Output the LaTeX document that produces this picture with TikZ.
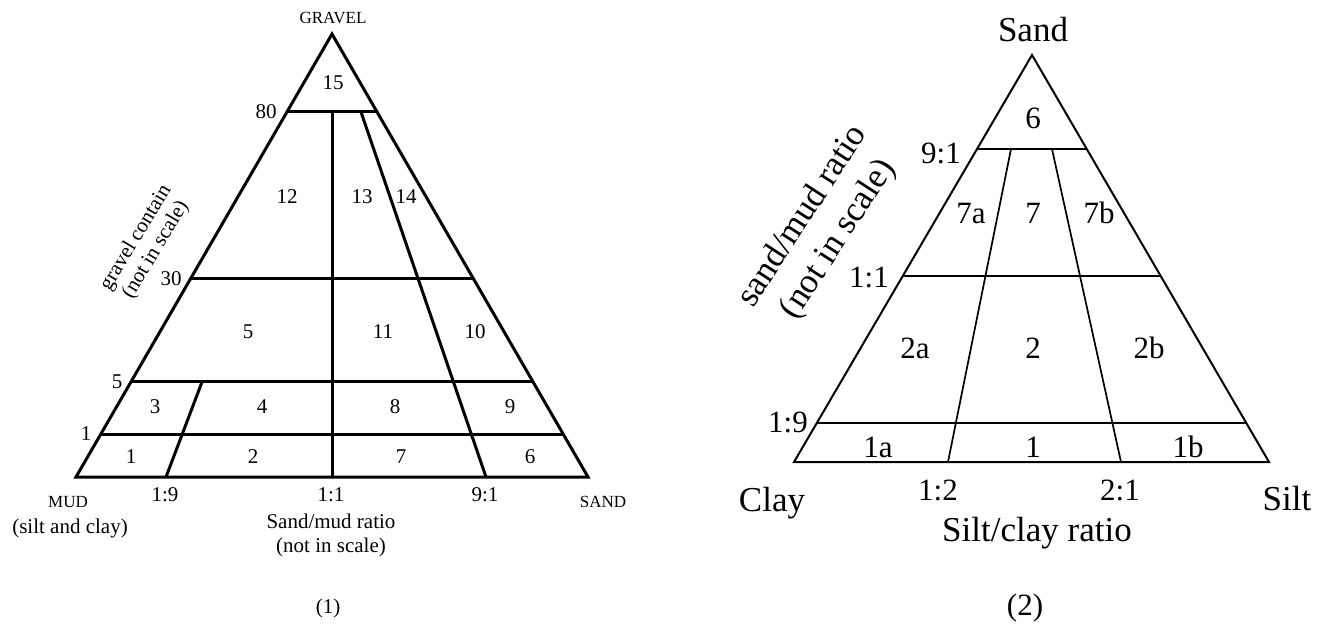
\documentclass[tikz,border=0pt]{standalone}
\usepackage{fontspec}
\setmainfont{Liberation Serif}
\usetikzlibrary{calc}

\begin{document}
\begin{tikzpicture}[
    x=1pt, y=-1pt,
    edgeA/.style={line width=3pt, line join=miter},
    edgeB/.style={line width=2pt, line join=miter},
    partB/.style={line width=1.7pt},
    numA/.style={font=\fontsize{21}{23}\selectfont, inner sep=0pt},
    capA/.style={font=\fontsize{17}{19}\selectfont, inner sep=0pt},
    numB/.style={font=\fontsize{31}{34}\selectfont, inner sep=0pt},
    capB/.style={font=\fontsize{35}{42}\selectfont, inner sep=0pt}
]
\useasboundingbox (0,0) rectangle (1320,625);

% (1) gravel - mud - sand
\coordinate (gravel) at (332,34);
\coordinate (mud) at (76,477);
\coordinate (sand) at (588,477);
\draw[edgeA] (mud) -- (gravel) -- (sand) -- cycle;

% gravel classes
\foreach \t/\n in {0.824/g80, 0.447/g30, 0.2145/g5, 0.097/g1} {
    \coordinate (\n L) at ($(mud)!\t!(gravel)$);
    \coordinate (\n R) at ($(sand)!\t!(gravel)$);
    \draw[edgeA] (\n L) -- (\n R);
}

% sand/mud ratios
\coordinate (r11top) at (g80L -| gravel);
\coordinate (r11) at (mud -| gravel);
\coordinate (r19top) at (202,382);
\coordinate (r19) at (166,477);
\coordinate (r91top) at (361,112);
\coordinate (r91) at (486,477);
\draw[edgeA] (r11top) -- (r11);
\draw[edgeA] (r19top) -- (r19);
\draw[edgeA] (r91top) -- (r91);

% fields
\node[numA] (a15) at (333,83) {15};
\node[numA] (a12) at (287,197) {12};
\node[numA] (a13) at (362,197) {13};
\node[numA] (a14) at (406,197) {14};
\node[numA] (a5) at (248,332) {5};
\node[numA] (a11) at (383,332) {11};
\node[numA] (a10) at (475,332) {10};
\node[numA] (a3) at (155,407) {3};
\node[numA] (a4) at (262,407) {4};
\node[numA] (a8) at (395,407) {8};
\node[numA] (a9) at (510,407) {9};
\node[numA] (a1) at (131,457) {1};
\node[numA] (a2) at (253,457) {2};
\node[numA] (a7) at (401,457) {7};
\node[numA] (a6) at (530,457) {6};

% axis labels
\node[capA] (tgravel) at (333,18) {GRAVEL};
\node[numA] (t80) at (266,112) {80};
\node[numA] (t30) at (171,279) {30};
\node[numA] (t5) at (117,382) {5};
\node[numA] (t1) at (86,434) {1};
\node[numA, rotate=59, align=center] (tgc) at (146,244) {gravel contain\\(not in scale)};
\node[capA] (tmud) at (68,502) {MUD};
\node[numA] (tsc) at (70,528) {(silt and clay)};
\node[capA] (tsand) at (603,502) {SAND};
\node[numA] (t19) at (165,495) {1:9};
\node[numA] (t11) at (331,495) {1:1};
\node[numA] (t91) at (485,495) {9:1};
\node[numA] (tsm) at (331,521) {Sand/mud ratio};
\node[numA] (tns) at (331,547) {(not in scale)};
\node[numA] (fig1) at (328,608) {(1)};

% (2) sand - clay - silt
\coordinate (top) at (1032,55);
\coordinate (clay) at (794,462);
\coordinate (silt) at (1269,462);
\draw[edgeB] (clay) -- (top) -- (silt) -- cycle;

\foreach \t/\n in {0.769/s91, 0.457/s11, 0.0958/s19} {
    \coordinate (\n L) at ($(clay)!\t!(top)$);
    \coordinate (\n R) at ($(silt)!\t!(top)$);
    \draw[partB] (\n L) -- (\n R);
}

\coordinate (c12top) at (1011,149);
\coordinate (c12) at (948,462);
\coordinate (c21top) at (1052,149);
\coordinate (c21) at (1121,462);
\draw[partB] (c12top) -- (c12);
\draw[partB] (c21top) -- (c21);

% fields
\node[numB] (b6) at (1033,118) {6};
\node[numB] (b7a) at (971,213) {7a};
\node[numB] (b7) at (1033,213) {7};
\node[numB] (b7b) at (1099,213) {7b};
\node[numB] (b2a) at (915,348) {2a};
\node[numB] (b2) at (1033,348) {2};
\node[numB] (b2b) at (1149,348) {2b};
\node[numB] (b1a) at (878,447) {1a};
\node[numB] (b1) at (1033,447) {1};
\node[numB] (b1b) at (1188,447) {1b};

% axis labels
\node[capB] (usand) at (1033,30) {Sand};
\node[numB] (u91) at (941,153) {9:1};
\node[numB] (u11) at (869,277) {1:1};
\node[numB] (u19) at (788,422) {1:9};
\node[capB, rotate=57, align=center] (usm) at (821,228) {sand/mud ratio\\(not in scale)};
\node[capB] (uclay) at (772,503) {Clay};
\node[numB] (u12) at (938,490) {1:2};
\node[numB] (u21) at (1120,490) {2:1};
\node[capB] (usilt) at (1287,499) {Silt};
\node[capB] (usc) at (1037,533) {Silt/clay ratio};
\node[numB] (fig2) at (1025,608) {(2)};

\end{tikzpicture}
\end{document}
